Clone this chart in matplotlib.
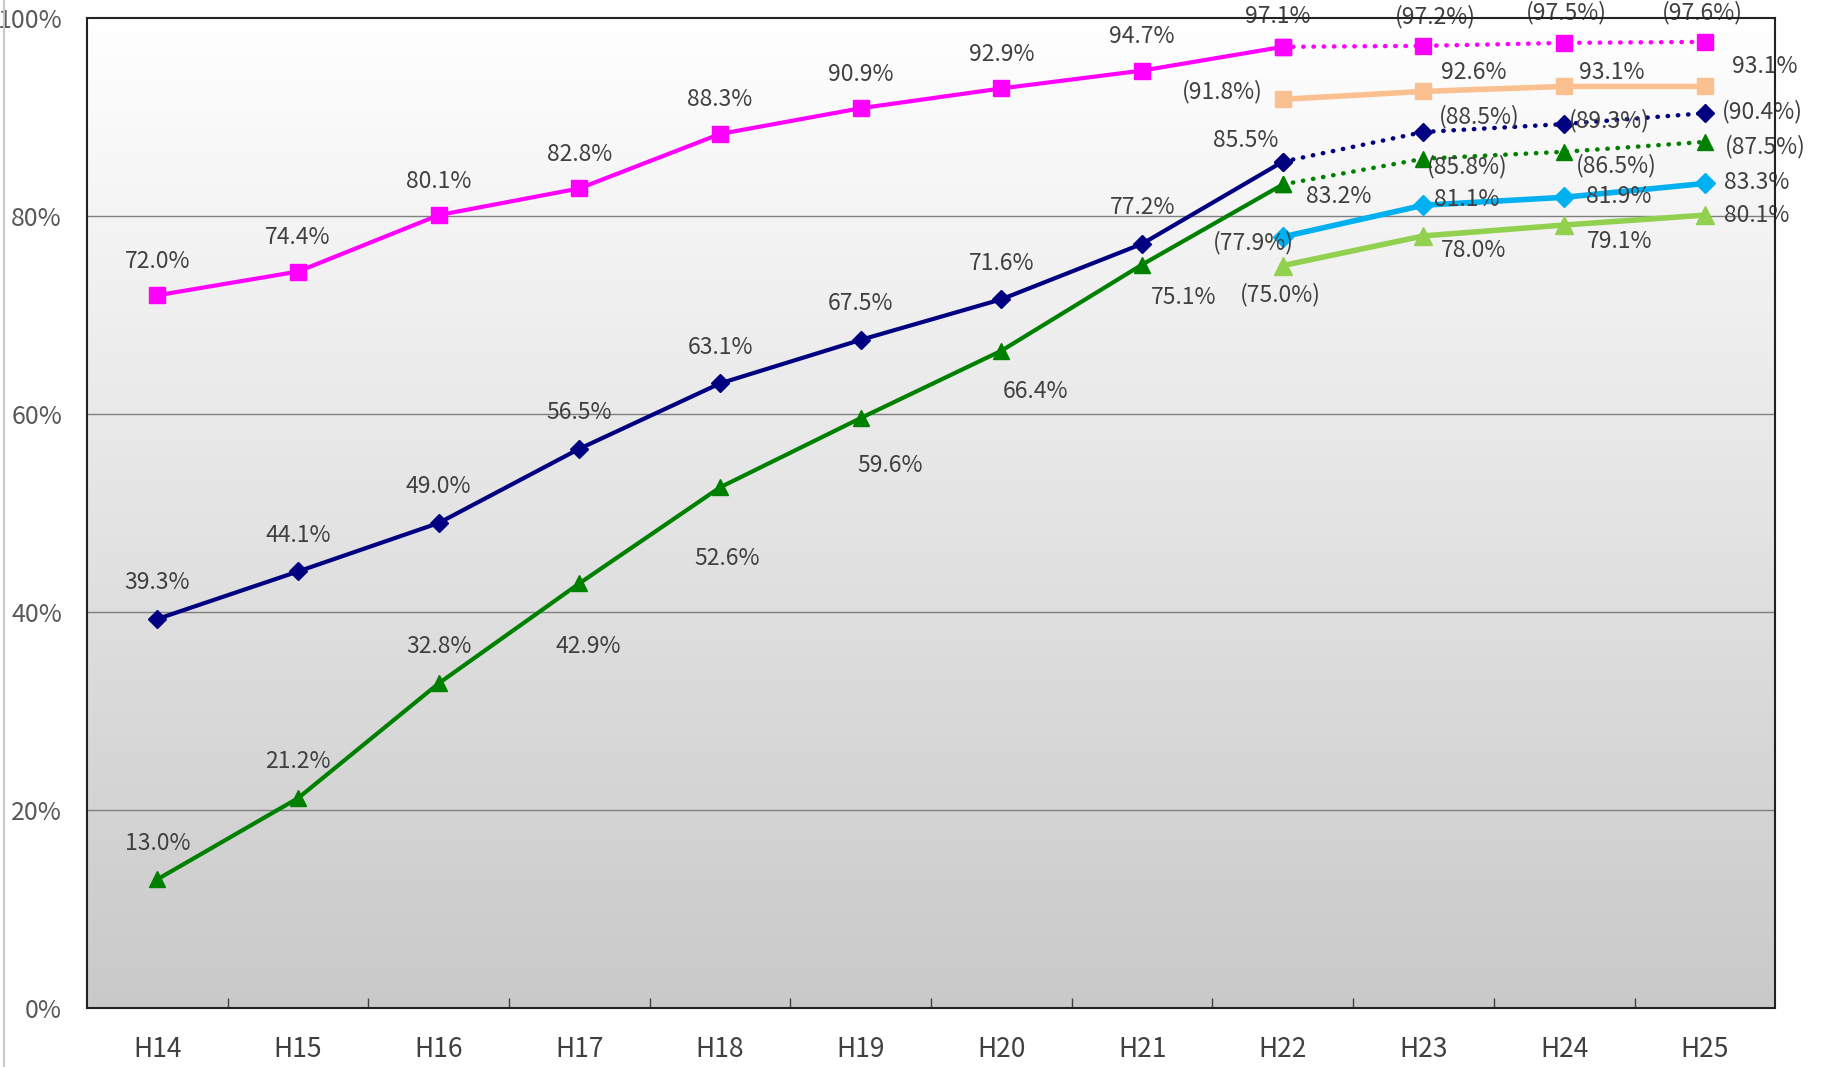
import numpy as np
import matplotlib.pyplot as plt
from matplotlib.lines import Line2D
from matplotlib.colors import LinearSegmentedColormap

plt.rcParams['font.family'] = ['Noto Sans CJK JP', 'DejaVu Sans']

years = ['H14', 'H15', 'H16', 'H17', 'H18', 'H19', 'H20', 'H21', 'H22', 'H23', 'H24', 'H25']

# actual values H14-H22
pink_vals = [72.0, 74.4, 80.1, 82.8, 88.3, 90.9, 92.9, 94.7, 97.1]
navy_vals = [39.3, 44.1, 49.0, 56.5, 63.1, 67.5, 71.6, 77.2, 85.5]
green_vals = [13.0, 21.2, 32.8, 42.9, 52.6, 59.6, 66.4, 75.1, 83.2]
# dotted continuation H22-H25
pink_dot = [97.1, 97.2, 97.5, 97.6]
navy_dot = [85.5, 88.5, 89.3, 90.4]
green_dot = [83.2, 85.8, 86.5, 87.5]
# new series H22-H25
peach_vals = [91.8, 92.6, 93.1, 93.1]
sky_vals = [77.9, 81.1, 81.9, 83.3]
lime_vals = [75.0, 78.0, 79.1, 80.1]

pink_lbl = ['72.0%', '74.4%', '80.1%', '82.8%', '88.3%', '90.9%', '92.9%', '94.7%', '97.1%']
navy_lbl = ['39.3%', '44.1%', '49.0%', '56.5%', '63.1%', '67.5%', '71.6%', '77.2%', '85.5%']
green_lbl = ['13.0%', '21.2%', '32.8%', '42.9%', '52.6%', '59.6%', '66.4%', '75.1%', '83.2%']
pink_dot_lbl = ['(97.2%)', '(97.5%)', '(97.6%)']
navy_dot_lbl = ['(88.5%)', '(89.3%)', '(90.4%)']
green_dot_lbl = ['(85.8%)', '(86.5%)', '(87.5%)']
peach_lbl = ['(91.8%)', '92.6%', '93.1%', '93.1%']
sky_lbl = ['(77.9%)', '81.1%', '81.9%', '83.3%']
lime_lbl = ['(75.0%)', '78.0%', '79.1%', '80.1%']

PINK = '#FF00FF'
NAVY = '#000080'
GREEN = '#008000'
PEACH = '#FAC090'
SKY = '#00B0F0'
LIME = '#92D050'
TXT = '#404040'

fig = plt.figure(figsize=(18.25, 10.67), dpi=100)
ax = fig.add_axes([0.0477, 0.0553, 0.925, 0.9277])

x = np.arange(len(years))
xa = x[:9]
xb = x[8:]

# gradient background, gray at bottom, white at top
grad = np.linspace(0.0, 1.0, 256).reshape(-1, 1)
ax.imshow(grad, cmap=LinearSegmentedColormap.from_list('g', ['#C9C9C9', '#FFFFFF']),
          extent=[-0.5, 11.5, 0, 100], aspect='auto', zorder=0, origin='lower')

for yv in [20, 40, 60, 80]:
    ax.axhline(yv, color='#7F7F7F', lw=1.0, zorder=1)

dot = (0, (0.1, 2.2))

ax.plot(xa, pink_vals, color=PINK, lw=3, marker='s', ms=11, zorder=5)
ax.plot(xb, pink_dot, color=PINK, lw=3.2, ls=dot, dash_capstyle='round', marker='s', ms=11, zorder=5)
ax.plot(xa, navy_vals, color=NAVY, lw=3, marker='D', ms=9, zorder=5)
ax.plot(xb, navy_dot, color=NAVY, lw=3.2, ls=dot, dash_capstyle='round', marker='D', ms=9, zorder=5)
ax.plot(xa, green_vals, color=GREEN, lw=3, marker='^', ms=12, zorder=5)
ax.plot(xb, green_dot, color=GREEN, lw=3.2, ls=dot, dash_capstyle='round', marker='^', ms=12, zorder=5)
ax.plot(xb, peach_vals, color=PEACH, lw=4, marker='s', ms=11, zorder=5)
ax.plot(xb, sky_vals, color=SKY, lw=4, marker='D', ms=10, zorder=5)
ax.plot(xb, lime_vals, color=LIME, lw=4, marker='^', ms=13, zorder=5)

# label offsets in pixels (dx, dy)
pink_off = [(0, 34), (0, 34), (0, 34), (0, 34), (0, 34), (0, 34), (0, 34), (0, 34), (-5, 30)]
pink_dot_off = [(12, 29), (2, 30), (-2, 29)]
navy_off = [(0, 36), (0, 36), (0, 36), (0, 36), (0, 36), (0, 36), (0, 36), (0, 36), (-37, 21)]
navy_dot_off = [(56, 15), (45, 3), (58, 2)]
green_off = [(0, 36), (0, 37), (0, 37), (9, -63), (7, -71), (29, -47), (34, -41), (41, -33), (56, -12)]
green_dot_off = [(44, -8), (52, -14), (60, -5)]
peach_off = [(-60, 8), (50, 19), (48, 14), (60, 20)]
sky_off = [(-29, -6), (43, 6), (55, 1), (52, 1)]
lime_off = [(-2, -29), (50, -15), (55, -16), (52, 0)]


def put_labels(xs, ys, labels, offs):
    for xi, yi, t, o in zip(xs, ys, labels, offs):
        ax.annotate(t, (xi, yi), xytext=o, textcoords='offset pixels',
                    ha='center', va='center', fontsize=16.5, color=TXT,
                    annotation_clip=False, zorder=6)


put_labels(xa, pink_vals, pink_lbl, pink_off)
put_labels(x[9:], pink_dot[1:], pink_dot_lbl, pink_dot_off)
put_labels(xa, navy_vals, navy_lbl, navy_off)
put_labels(x[9:], navy_dot[1:], navy_dot_lbl, navy_dot_off)
put_labels(xa, green_vals, green_lbl, green_off)
put_labels(x[9:], green_dot[1:], green_dot_lbl, green_dot_off)
put_labels(xb, peach_vals, peach_lbl, peach_off)
put_labels(xb, sky_vals, sky_lbl, sky_off)
put_labels(xb, lime_vals, lime_lbl, lime_off)

ax.set_xlim(-0.5, 11.5)
ax.set_ylim(0, 100)
ax.set_xticks(x)
ax.set_xticklabels(years)
ax.set_xticks(np.arange(0.5, 11, 1), minor=True)
ax.tick_params(axis='x', which='major', length=0, pad=20, labelsize=19, labelcolor=TXT)
ax.tick_params(axis='x', which='minor', length=7, direction='in', width=1, color='#404040')
ax.set_yticks([0, 20, 40, 60, 80, 100])
ax.set_yticklabels(['0%', '20%', '40%', '60%', '80%', '100%'])
ax.tick_params(axis='y', length=0, pad=18, labelsize=18, labelcolor='#595959')

for s in ax.spines.values():
    s.set_color('#222222')
    s.set_linewidth(1.5)
    s.set_zorder(7)

fig.add_artist(Line2D([0.002, 0.002], [0, 1], color='#C8C8C8', lw=1.5, transform=fig.transFigure))

fig.savefig('out.png', dpi=100)
